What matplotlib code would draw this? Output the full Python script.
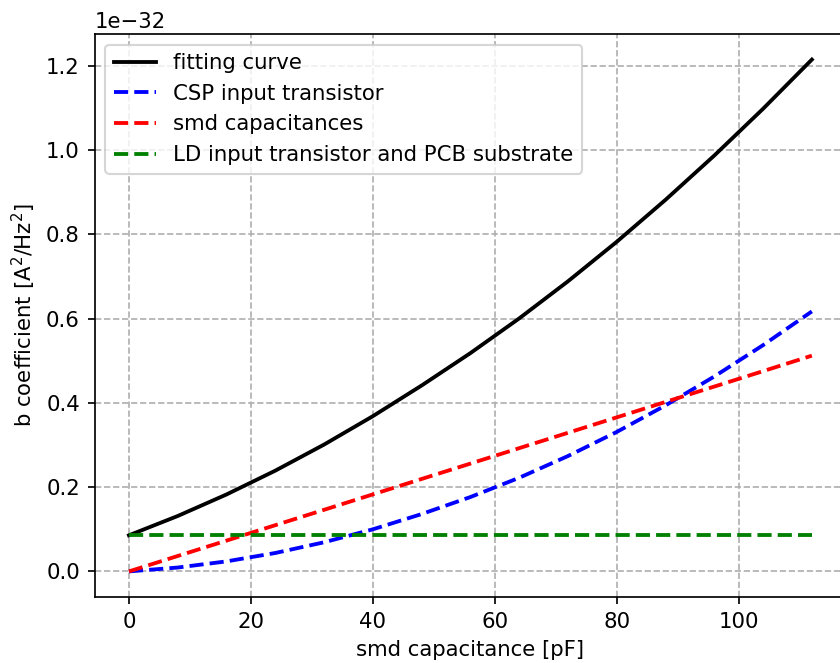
import matplotlib
matplotlib.use("Agg")
import matplotlib.pyplot as plt
import numpy as np

# smd capacitance [pF]
cap = [0, 8, 16, 24, 32, 40, 48, 56, 64, 72, 80, 88, 96, 104, 112]
# contributions in units of 1e-32 A^2/Hz^2
csp = [0.0, 0.0092, 0.0238, 0.0437, 0.0691, 0.0999, 0.1361, 0.1765, 0.2222,
       0.2738, 0.331, 0.394, 0.4626, 0.537, 0.617]
smd = [0.0, 0.0366, 0.0731, 0.1097, 0.1462, 0.1828, 0.2194, 0.2559, 0.2925,
       0.3290, 0.3656, 0.4022, 0.4387, 0.4753, 0.512]
ld = [0.0857] * 15
fit = [0.0857, 0.1315, 0.1826, 0.2391, 0.3010, 0.3684, 0.4412, 0.5181, 0.6004,
       0.6885, 0.7823, 0.8819, 0.9870, 1.0980, 1.2147]

scale = 1e-32
DPI = 153

fig = plt.figure(figsize=(840 / DPI, 663 / DPI), dpi=DPI)
ax = fig.add_axes([94.8 / 840, (663 - 597) / 663, (846 - 94.8) / 840, (597 - 34) / 663])

x = np.array(cap)
lw = 1.8
ax.plot(x, np.array(fit) * scale, color="black", lw=lw, label="fitting curve")
ax.plot(x, np.array(csp) * scale, "--", color="blue", lw=lw, label="CSP input transistor")
ax.plot(x, np.array(smd) * scale, "--", color="red", lw=lw, label="smd capacitances")
ax.plot(x, np.array(ld) * scale, "--", color="green", lw=lw, label="LD input transistor and PCB substrate")

ax.grid(True, linestyle="--", color="#b0b0b0")
ax.set_xlabel("smd capacitance [pF]")
ax.set_ylabel(r"b coefficient [A$^2$/Hz$^2$]")
ax.legend(loc="upper left")

fig.savefig("out.png", dpi=DPI)
